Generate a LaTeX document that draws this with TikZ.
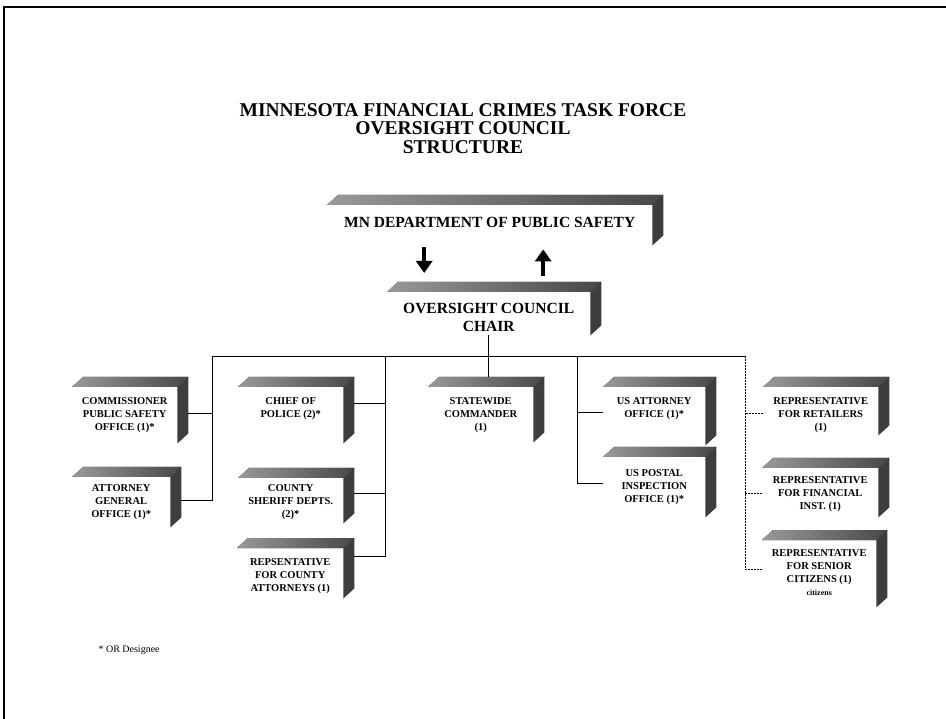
\documentclass[tikz,border=0pt]{standalone}
\usepackage{fontspec}
\setmainfont{Liberation Serif}
\usetikzlibrary{calc,arrows.meta}

\newcommand{\panelfont}{\bfseries\fontsize{10.5}{13}\selectfont}
\newcommand{\deptfont}{\bfseries\fontsize{15.5}{18}\selectfont}

\tikzset{
  panel/.style={inner sep=0pt, anchor=north west, minimum width=105pt, minimum height=56pt},
  caption/.style={anchor=north, yshift=-#1, align=center, inner sep=0pt, font=\panelfont},
  caption/.default=10.5pt,
  topface/.style={left color=black!40, right color=black!72},
  sideface/.style={fill=black!76},
  link/.style={line width=0.7pt},
  dotlink/.style={line width=0.7pt, dash pattern=on 2pt off 1pt},
  bigarrow/.style={line width=3.5pt, -{Triangle[width=16pt,length=12pt]}}
}

\begin{document}
\begin{tikzpicture}[x=1pt, y=-1pt]
  \useasboundingbox (0,0) rectangle (946,719);
  % page frame
  \draw[line width=2pt] (4,719) -- (4,7) -- (946,7);

  % title
  \node[font=\bfseries\fontsize{19.5}{18.5}\selectfont, align=center, anchor=north] (title) at (463,100)
    {MINNESOTA FINANCIAL CRIMES TASK FORCE\\OVERSIGHT COUNCIL\\STRUCTURE};

  % top of the chart
  \node[panel, minimum width=325pt, minimum height=40pt,
    label={[caption=12pt, font=\deptfont]north:{MN DEPARTMENT OF PUBLIC SAFETY}}] (dps) at (327,205) {};
  \node[panel, minimum width=203pt, minimum height=43pt,
    label={[caption=11pt, font=\deptfont]north:{OVERSIGHT COUNCIL\\CHAIR}}] (chair) at (387,292) {};

  % members, first row
  \node[panel, label={[caption]north:{COMMISSIONER\\PUBLIC SAFETY\\OFFICE (1)*}}] (comm) at (72,387) {};
  \node[panel, label={[caption]north:{CHIEF OF\\POLICE (2)*}}] (chief) at (238,387) {};
  \node[panel, minimum height=55pt, label={[caption]north:{STATEWIDE\\COMMANDER\\(1)}}] (statewide) at (428,387) {};
  \node[panel, minimum width=102pt, minimum height=58pt, label={[caption]north:{US ATTORNEY\\OFFICE (1)*}}] (usatty) at (603,387) {};
  \node[panel, minimum width=115pt, minimum height=48pt, label={[caption]north:{REPRESENTATIVE\\FOR RETAILERS\\(1)}}] (retail) at (763,387) {};

  % second row
  \node[panel, minimum width=98pt, minimum height=50pt, label={[caption=7pt]north:{ATTORNEY\\GENERAL\\OFFICE (1)*}}] (ag) at (72,477) {};
  \node[panel, minimum height=45pt, label={[caption=6pt]north:{COUNTY\\SHERIFF DEPTS.\\(2)*}}] (sheriff) at (238,478) {};
  \node[panel, minimum width=102pt, minimum height=60pt, label={[caption=12pt]north:{US POSTAL\\INSPECTION\\OFFICE (1)*}}] (uspostal) at (603,457) {};
  \node[panel, minimum width=116pt, minimum height=49pt, label={[caption=8pt]north:{REPRESENTATIVE\\FOR FINANCIAL\\INST. (1)}}] (financial) at (762,468) {};

  % third row
  \node[panel, minimum width=106pt, minimum height=50pt, label={[caption=10pt]north:{REPSENTATIVE\\FOR COUNTY\\ATTORNEYS (1)}}] (rep) at (237,548) {};
  \node[panel, minimum width=114pt, minimum height=67pt, label={[caption=9pt]north:{REPRESENTATIVE\\FOR SENIOR\\CITIZENS (1)\\{\fontsize{8}{11}\selectfont citizens}}}] (senior) at (762,540) {};

  % raised faces
  \foreach \n in {dps,chair,comm,chief,statewide,usatty,retail,ag,sheriff,uspostal,financial,rep,senior}{
    \fill[topface] (\n.north west) -- ++(11,-10) -- ($(\n.north east)+(11,-10)$) -- (\n.north east) -- cycle;
    \fill[sideface] (\n.north east) -- ++(11,-10) -- ($(\n.south east)+(11,-10)$) -- (\n.south east) -- cycle;
  }

  % report arrows
  \draw[bigarrow] ($(dps.south)+(-65.5,2)$) -- ($(chair.north)+(-64.5,-19)$);
  \draw[bigarrow] ($(chair.north)+(54.5,-16)$) -- ($(dps.south)+(53.5,4)$);

  % bus lines
  \coordinate (busL) at (212,356);
  \coordinate (busB) at (385,356);
  \coordinate (busC) at (577,356);
  \coordinate (busR) at (745,356);
  \coordinate (swTop) at ([yshift=10pt]statewide.north);
  \draw[link] (busL) -- (busR);
  \draw[link] (chair.south) -- (chair.south |- swTop);

  % branch points on the boxes
  \coordinate (commR) at ([xshift=11pt,yshift=-26pt]comm.north east);
  \coordinate (agR) at ([xshift=11pt,yshift=-23pt]ag.north east);
  \coordinate (chiefR) at ([xshift=11pt,yshift=-16pt]chief.north east);
  \coordinate (sheriffR) at ([xshift=11pt,yshift=-15pt]sheriff.north east);
  \coordinate (repR) at ([xshift=11pt,yshift=-8pt]rep.north east);
  \coordinate (usattyL) at ([yshift=-25pt]usatty.north west);
  \coordinate (uspostalL) at ([yshift=-26pt]uspostal.north west);
  \coordinate (retailL) at ([yshift=-26pt]retail.north west);
  \coordinate (financialL) at ([yshift=-25pt]financial.north west);
  \coordinate (seniorL) at ([yshift=-29pt]senior.north west);

  \draw[link] (busL) -- (busL |- agR) -- (agR);
  \draw[link] (commR) -- (commR -| busL);
  \draw[link] (busB) -- (busB |- repR) -- (repR);
  \draw[link] (chiefR) -- (chiefR -| busB);
  \draw[link] (sheriffR) -- (sheriffR -| busB);
  \draw[link] (busC) -- (busC |- uspostalL) -- (uspostalL);
  \draw[link] (usattyL) -- (usattyL -| busC);
  \draw[dotlink] (busR) -- (busR |- seniorL) -- (seniorL);
  \draw[dotlink] (retailL) -- (retailL -| busR);
  \draw[dotlink] (financialL) -- (financialL -| busR);

  % footnote
  \node[font=\fontsize{10}{12}\selectfont, anchor=base west] (note) at (95,652) {* OR Designee};
\end{tikzpicture}
\end{document}
